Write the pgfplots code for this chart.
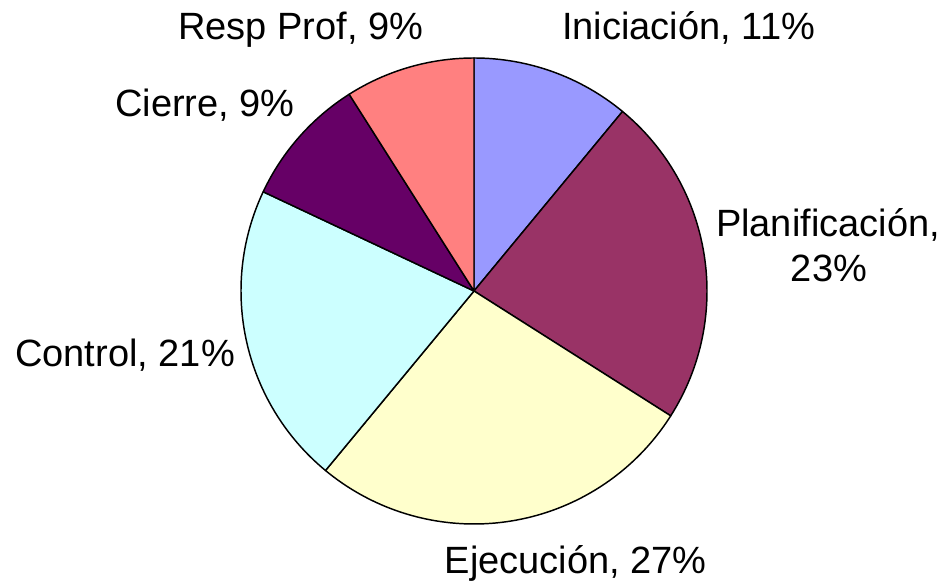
\documentclass[border=0pt]{standalone}
\usepackage{pgfplots}
\pgfplotsset{compat=1.18}
\usepackage{fontspec}
\setmainfont{Liberation Sans}
\definecolor{cIni}{HTML}{9999FF}
\definecolor{cPla}{HTML}{993366}
\definecolor{cEje}{HTML}{FFFFCC}
\definecolor{cCon}{HTML}{CCFFFF}
\definecolor{cCie}{HTML}{660066}
\definecolor{cRes}{HTML}{FF8080}
% pie slice: cumulative start (%), value (%), colour
\newcommand{\pieslice}[3]{%
  \pgfmathsetmacro\sa{90-3.6*#1}%
  \pgfmathsetmacro\ea{90-3.6*(#1+#2)}%
  \edef\tmp{\noexpand\filldraw[fill=#3, draw=black, line width=1.1pt, line join=round]
    (axis cs:474,293) -- ++(\sa:174.75pt) arc[start angle=\sa, end angle=\ea, radius=174.75pt] -- cycle;}%
  \tmp}
\begin{document}
\begin{tikzpicture}
\begin{axis}[x=0.75pt, y=0.75pt, xmin=0, xmax=945, ymin=0, ymax=584,
  hide axis, clip=false, scale only axis]
\path (axis cs:0,0) rectangle (axis cs:945,584);
% values (%): Iniciación 11, Planificación 23, Ejecución 27, Control 21, Cierre 9, Resp Prof 9
\pieslice{0}{11}{cIni}
\pieslice{11}{23}{cPla}
\pieslice{34}{27}{cEje}
\pieslice{61}{21}{cCon}
\pieslice{82}{9}{cCie}
\pieslice{91}{9}{cRes}
\begin{scope}[every node/.style={font=\fontsize{28.5}{34}\selectfont, inner sep=0pt}]
\node[anchor=base west] at (axis cs:178,544) {Resp Prof, 9\%};
\node[anchor=base west] at (axis cs:562,544) {Iniciación, 11\%};
\node[anchor=base west] at (axis cs:115,467) {Cierre, 9\%};
\node[anchor=base west] at (axis cs:15,217) {Control, 21\%};
\node[anchor=base east] at (axis cs:707,10) {Ejecución, 27\%};
\node[anchor=base] at (axis cs:828,347) {Planificación,};
\node[anchor=base] at (axis cs:829,302) {23\%};
\end{scope}
\end{axis}
\end{tikzpicture}
\end{document}
